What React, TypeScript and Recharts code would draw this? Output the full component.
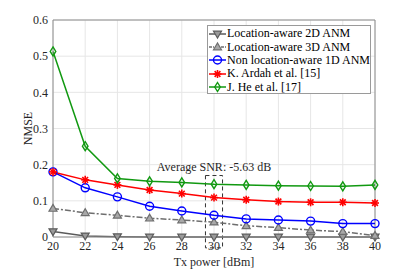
import React from 'react';
import {
  LineChart,
  Line,
  XAxis,
  YAxis,
  CartesianGrid,
  ReferenceArea,
  ReferenceLine,
} from 'recharts';

const txPower = [20, 22, 24, 26, 28, 30, 32, 34, 36, 38, 40];
const anm2d = [0.015, 0.003, 0.001, 0.0, 0.0, 0.0, 0.0, 0.0, 0.0, 0.0, 0.0];
const anm3d = [0.079, 0.067, 0.06, 0.052, 0.047, 0.041, 0.031, 0.026, 0.019, 0.015, 0.004];
const anm1d = [0.18, 0.136, 0.111, 0.085, 0.072, 0.06, 0.05, 0.047, 0.044, 0.037, 0.037];
const ardah = [0.18, 0.158, 0.144, 0.13, 0.12, 0.109, 0.103, 0.098, 0.096, 0.096, 0.094];
const jhe = [0.513, 0.251, 0.162, 0.154, 0.151, 0.146, 0.144, 0.142, 0.141, 0.14, 0.144];

const xTicks = [20, 22, 24, 26, 28, 30, 32, 34, 36, 38, 40];
const yTicks = [0, 0.1, 0.2, 0.3, 0.4, 0.5, 0.6];

const FONT = 'Liberation Serif, DejaVu Serif, Times New Roman, serif';

type Marker = 'down' | 'up' | 'circle' | 'star' | 'diamond';

const series: { key: string; name: string; color: string; dash?: string; marker: Marker; values: number[] }[] = [
  { key: 'anm2d', name: 'Location-aware 2D ANM', color: '#5a5a5a', marker: 'down', values: anm2d },
  { key: 'anm3d', name: 'Location-aware 3D ANM', color: '#6e6e6e', dash: '6 2 2 2', marker: 'up', values: anm3d },
  { key: 'anm1d', name: 'Non location-aware 1D ANM', color: '#0000ff', marker: 'circle', values: anm1d },
  { key: 'ardah', name: 'K. Ardah et al. [15]', color: '#ff0000', marker: 'star', values: ardah },
  { key: 'jhe', name: 'J. He et al. [17]', color: '#119911', marker: 'diamond', values: jhe },
];

const data = txPower.map((x, i) => {
  const row: Record<string, number> = { x };
  series.forEach((s) => (row[s.key] = s.values[i]));
  return row;
});

function markerShape(marker: Marker, cx: number, cy: number, color: string, k?: string) {
  const r = 4;
  if (marker === 'down')
    return <path key={k} d={`M${cx - r},${cy - r * 0.7} L${cx + r},${cy - r * 0.7} L${cx},${cy + r} Z`} fill="#9a9a9a" stroke={color} strokeWidth={1.2} />;
  if (marker === 'up')
    return <path key={k} d={`M${cx - r},${cy + r * 0.7} L${cx + r},${cy + r * 0.7} L${cx},${cy - r} Z`} fill="#a8a8a8" stroke={color} strokeWidth={1.2} />;
  if (marker === 'circle')
    return <circle key={k} cx={cx} cy={cy} r={r} fill="none" stroke={color} strokeWidth={1.4} />;
  if (marker === 'diamond')
    return <path key={k} d={`M${cx},${cy - r - 0.5} L${cx + r * 0.7},${cy} L${cx},${cy + r + 0.5} L${cx - r * 0.7},${cy} Z`} fill="none" stroke={color} strokeWidth={1.4} />;
  const d = r * 0.72;
  return (
    <g key={k} stroke={color} strokeWidth={1.6}>
      <line x1={cx - r} y1={cy} x2={cx + r} y2={cy} />
      <line x1={cx} y1={cy - r} x2={cx} y2={cy + r} />
      <line x1={cx - d} y1={cy - d} x2={cx + d} y2={cy + d} />
      <line x1={cx - d} y1={cy + d} x2={cx + d} y2={cy - d} />
    </g>
  );
}

const makeDot = (marker: Marker, color: string) => (props: any) => {
  const { cx, cy, index } = props;
  if (cx == null || cy == null) return <g key={index} />;
  return markerShape(marker, cx, cy, color, `d${index}`);
};

const LegendBox = () => (
  <div
    style={{
      position: 'absolute',
      left: 207,
      top: 25,
      width: 164,
      height: 69,
      border: '1px solid #9a9a9a',
      background: '#fff',
      fontFamily: FONT,
      fontSize: 12,
      color: '#000',
      boxSizing: 'border-box',
      paddingTop: 1,
    }}
  >
    {series.map((s) => (
      <div key={s.key} style={{ display: 'flex', alignItems: 'center', height: 13.4, whiteSpace: 'nowrap' }}>
        <svg width={19} height={12} style={{ flex: 'none' }}>
          <line x1={1} y1={6} x2={18} y2={6} stroke={s.color} strokeWidth={1.5} strokeDasharray={s.dash ? '3 1 1 1' : undefined} />
          {markerShape(s.marker, 9.5, 6, s.color)}
        </svg>
        <span>{s.name}</span>
      </div>
    ))}
  </div>
);

export default function App() {
  return (
    <div style={{ position: 'absolute', left: 0, top: 0, width: 415, height: 269, background: '#fff', fontFamily: FONT }}>
      <LineChart
        width={415}
        height={269}
        data={data}
        margin={{ top: 20, right: 40, left: 0, bottom: 0 }}
        style={{ fontFamily: FONT }}
      >
        <CartesianGrid stroke="#e6e6e6" strokeWidth={1} />
        <XAxis
          dataKey="x"
          type="number"
          domain={[20, 40]}
          ticks={xTicks}
          height={32}
          stroke="#8c8c8c"
          tickLine={false}
          tickSize={4}
          tickMargin={0}
          tick={{ fill: '#262626', fontSize: 12, fontFamily: FONT }}
          label={{ value: 'Tx power [dBm]', position: 'insideBottom', offset: 3, fill: '#262626', fontSize: 12, fontFamily: FONT }}
        />
        <YAxis
          type="number"
          domain={[0, 0.6]}
          ticks={yTicks}
          width={53}
          stroke="#8c8c8c"
          tickLine={false}
          tickSize={3}
          tickMargin={2}
          tick={{ fill: '#262626', fontSize: 12, fontFamily: FONT }}
          label={{ value: 'NMSE', angle: -90, position: 'center', dx: 1, fill: '#262626', fontSize: 12, fontFamily: FONT }}
        />
        <ReferenceLine y={0.6} stroke="#8c8c8c" />
        <ReferenceLine x={40} stroke="#8c8c8c" />
        <ReferenceArea
          x1={29.47}
          x2={30.53}
          y1={-0.03}
          y2={0.17}
          ifOverflow="visible"
          fill="none"
          stroke="#333"
          strokeDasharray="4 3"
          strokeWidth={1}
          label={{ value: 'Average SNR: -5.63 dB', position: 'top', offset: 5, fill: '#262626', fontSize: 12, fontFamily: FONT }}
        />
        {series.map((s) => (
          <Line
            key={s.key}
            dataKey={s.key}
            name={s.name}
            type="linear"
            stroke={s.color}
            strokeWidth={1.5}
            strokeDasharray={s.dash}
            dot={makeDot(s.marker, s.color)}
            activeDot={false}
            isAnimationActive={false}
          />
        ))}
      </LineChart>
      <LegendBox />
    </div>
  );
}
